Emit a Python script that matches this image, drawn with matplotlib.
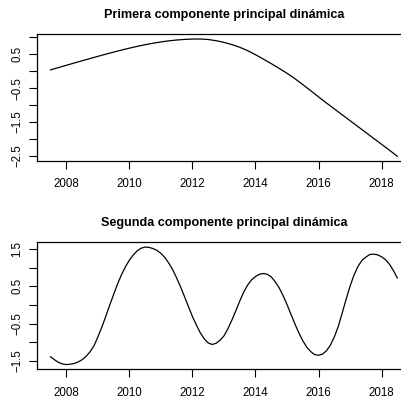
import numpy as np
import matplotlib
matplotlib.use("Agg")
import matplotlib.pyplot as plt

plt.rcParams['font.family'] = ['Liberation Sans', 'DejaVu Sans']

# first component, quarterly from mid 2007
anios1 = np.arange(2007.5, 2018.51, 0.25)
cp1 = [0.040, 0.108, 0.176, 0.243, 0.310, 0.376, 0.441, 0.505, 0.567, 0.627,
       0.684, 0.737, 0.786, 0.830, 0.868, 0.900, 0.925, 0.943, 0.953, 0.955,
       0.940, 0.905, 0.855, 0.790, 0.710, 0.610, 0.490, 0.360, 0.225, 0.085,
       -0.060, -0.220, -0.395, -0.575, -0.760, -0.940, -1.115, -1.290, -1.465, -1.640,
       -1.815, -1.990, -2.165, -2.340, -2.520]

# second component, every 1.5 months
anios2 = np.arange(2007.5, 2018.51, 0.125)
cp2 = [-1.39, -1.47, -1.54, -1.58, -1.60, -1.59, -1.57, -1.53, -1.47, -1.38,
       -1.26, -1.10, -0.86, -0.60, -0.31, -0.01, 0.28, 0.56, 0.81, 1.02,
       1.20, 1.34, 1.45, 1.52, 1.55, 1.54, 1.51, 1.46, 1.38, 1.27,
       1.12, 0.94, 0.72, 0.48, 0.22, -0.05, -0.31, -0.54, -0.75, -0.91,
       -1.02, -1.06, -1.03, -0.95, -0.83, -0.64, -0.41, -0.16, 0.10, 0.34,
       0.53, 0.67, 0.76, 0.82, 0.84, 0.82, 0.75, 0.62, 0.46, 0.25,
       0.01, -0.25, -0.51, -0.75, -0.96, -1.13, -1.25, -1.33, -1.35, -1.32,
       -1.23, -1.08, -0.86, -0.58, -0.22, 0.15, 0.50, 0.80, 1.03, 1.19,
       1.28, 1.35, 1.36, 1.34, 1.29, 1.21, 1.09, 0.92, 0.72]

titulos = ["Primera componente principal dinámica",
           "Segunda componente principal dinámica"]
yticks = [np.arange(-2.5, 1.01, 0.5), np.arange(-1.5, 1.51, 0.5)]
ylabels = [["-2.5", "", "-1.5", "", "-0.5", "", "0.5", ""],
           ["-1.5", "", "-0.5", "", "0.5", "", "1.5"]]
xticks = [2008, 2010, 2012, 2014, 2016, 2018]

fig = plt.figure(figsize=(4.01, 3.98), dpi=100)
posiciones = [[0.0915, 0.5955, 0.934, 0.3183],
              [0.0915, 0.0721, 0.934, 0.3190]]

for i, (x, y) in enumerate([(anios1, cp1), (anios2, cp2)]):
    ax = fig.add_axes(posiciones[i])
    ax.plot(x, y, color="black", lw=0.9)
    ax.margins(x=0.04, y=0.04)
    ax.set_xticks(xticks)
    ax.set_xticklabels([str(a) for a in xticks])
    ax.set_yticks(yticks[i])
    ax.set_yticklabels([l.replace("-", "\u2212") for l in ylabels[i]],
                       rotation=90, va="center")
    ax.tick_params(axis="both", length=5.5, width=0.8, labelsize=8.3)
    ax.tick_params(axis="x", pad=7.0)
    ax.tick_params(axis="y", pad=4.0)
    for sp in ax.spines.values():
        sp.set_linewidth(0.9)
    ax.set_title(titulos[i], fontsize=9.1, fontweight="bold", pad=11.5)

plt.savefig("out.png", dpi=100)
